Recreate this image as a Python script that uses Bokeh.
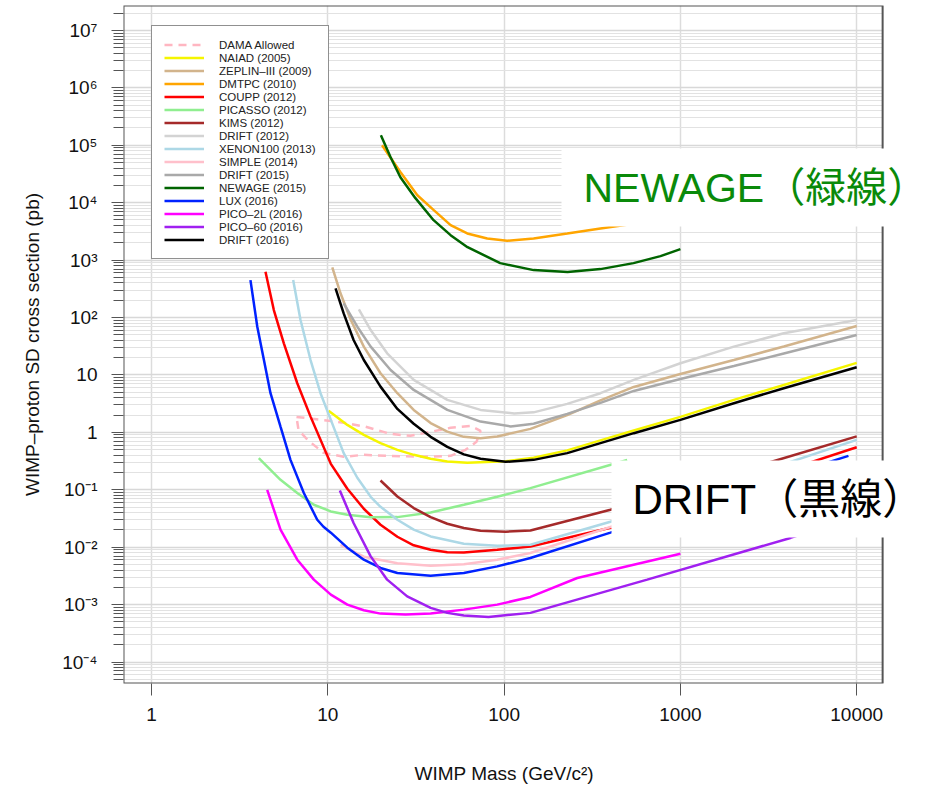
from bokeh.plotting import figure
from bokeh.models import (FixedTicker, CustomJSTickFormatter, Legend, LegendItem,
                          BoxAnnotation, Label, Range1d, Title)
from bokeh.embed import file_html
from bokeh.resources import INLINE

# ---------------- data (WIMP mass in GeV/c^2, cross section in pb) ----------------
dama_mass = [6.64, 8.19, 10.4, 12.6, 16.4, 22.7, 29.4, 38.3, 49.7, 64.5, 73.5, 69.7, 60.4,
             49.7, 33.6, 22.7, 15.9, 12.3, 9.45, 7.67, 6.82, 6.64]
dama_sigma = [1.86, 1.72, 1.58, 1.46, 1.25, 0.94, 0.87, 1.02, 1.20, 1.30, 1.06, 0.684, 0.496,
              0.39, 0.375, 0.39, 0.406, 0.375, 0.44, 0.741, 1.105, 1.86]

naiad_mass = [10.1, 12.9, 16.0, 19.9, 24.8, 30.7, 38.3, 47.6, 61.8, 102, 147, 228, 352, 544,
              1000, 2010, 3860, 10000]
naiad_sigma = [2.37, 1.35, 0.905, 0.649, 0.496, 0.406, 0.346, 0.311, 0.295, 0.313, 0.36, 0.486,
               0.726, 1.08, 1.86, 3.68, 6.7, 16.2]

zeplin_mass = [10.6, 11.8, 13.5, 16.0, 19.9, 24.8, 30.7, 38.3, 47.6, 59.1, 73.5, 91.4, 141, 228,
               352, 544, 1000, 2010, 3860, 10000]
zeplin_sigma = [746, 264, 90.5, 31.1, 10.7, 4.81, 2.46, 1.45, 1.03, 0.835, 0.793, 0.845, 1.15,
                2.0, 3.6, 6.18, 10.4, 18.2, 31.3, 71.1]

dmtpc_mass = [20.3, 25.8, 32.2, 39.9, 49.7, 61.8, 80.2, 104, 147, 228, 352, 542, 1000]
dmtpc_sigma = [1.0e5, 3.43e4, 1.35e4, 7.41e3, 4.06e3, 2.91e3, 2.38e3, 2.17e3, 2.38e3, 2.91e3,
               3.56e3, 4.3e3, 5.8e3]

coupp_mass = [4.43, 4.94, 5.63, 6.71, 7.98, 10.4, 12.9, 16.0, 19.9, 24.8, 30.7, 38.3, 47.6,
              59.1, 91.4, 141, 401, 10000]
coupp_sigma = [626, 135, 35.6, 7.17, 1.88, 0.283, 0.104, 0.0467, 0.0246, 0.0152, 0.0108,
               9.05e-3, 8.18e-3, 8.1e-3, 9.05e-3, 0.0103, 0.0218, 0.55]

picasso_mass = [4.06, 5.39, 6.71, 8.33, 10.4, 12.9, 17.5, 24.8, 38.3, 59.1, 91.4, 141, 499]
picasso_sigma = [0.356, 0.149, 0.0877, 0.0548, 0.042, 0.0367, 0.0332, 0.0334, 0.0403, 0.0548,
                 0.0755, 0.107, 0.33]

kims_mass = [19.9, 24.8, 30.7, 38.3, 47.6, 59.1, 73.5, 102, 141, 401, 10000]
kims_sigma = [0.145, 0.0764, 0.0481, 0.0335, 0.0256, 0.0216, 0.0194, 0.0186, 0.0196, 0.0449, 0.85]

drift12_mass = [15.0, 17.5, 21.7, 30.7, 47.6, 73.5, 114, 147, 228, 352, 544, 1000, 2010, 3860,
                10000]
drift12_sigma = [139, 60.6, 23.8, 8.19, 3.68, 2.46, 2.14, 2.23, 3.13, 4.81, 8.19, 16.0, 31.1,
                 53.1, 90.5]

xenon_mass = [6.36, 7.0, 7.98, 9.09, 10.4, 12.3, 14.7, 17.5, 19.9, 24.8, 30.7, 38.3, 59.1, 91.4,
              141, 401, 10000]
xenon_sigma = [449, 90.5, 18.2, 4.81, 1.65, 0.435, 0.162, 0.0755, 0.0506, 0.0301, 0.0202, 0.0154,
               0.0115, 0.0106, 0.011, 0.0278, 0.74]

simple_mass = [11.8, 16.0, 24.8, 38.3, 59.1, 91.4, 141, 1000]
simple_sigma = [0.011, 6.84e-3, 5.27e-3, 4.77e-3, 5.06e-3, 6.06e-3, 7.93e-3, 0.056]

drift15_mass = [12.3, 14.7, 17.5, 22.7, 30.7, 47.6, 73.5, 109, 147, 228, 352, 544, 1000, 2010,
                3860, 10000]
drift15_sigma = [177, 69.2, 31.1, 12.2, 5.48, 2.46, 1.54, 1.27, 1.41, 2.10, 3.26, 5.27, 8.52,
                 14.3, 23.7, 49.6]

newage_mass = [20, 22.7, 25.8, 31.4, 39.8, 49.7, 62, 95, 147, 229, 352, 542, 771, 1000]
newage_sigma = [1.49e5, 6.2e4, 2.77e4, 1.2e4, 4.96e3, 2.72e3, 1.68e3, 887, 670, 618, 697, 887,
                1175, 1553]

lux_mass = [3.64, 3.98, 4.34, 4.73, 5.39, 6.14, 7.31, 8.71, 9.45, 10.4, 12.9, 16.0, 19.9, 24.8,
            38.3, 59.1, 91.4, 141, 401, 1000, 8980]
lux_sigma = [449, 69.2, 18.2, 4.81, 1.26, 0.332, 0.0877, 0.0301, 0.0227, 0.0179, 9.8e-3, 6.06e-3,
             4.35e-3, 3.56e-3, 3.19e-3, 3.56e-3, 4.63e-3, 6.49e-3, 0.0179, 0.046, 0.39]

pico2l_mass = [4.53, 5.39, 6.71, 8.33, 10.4, 12.9, 16.0, 19.9, 27.6, 38.3, 59.1, 91.4, 141, 260,
               1000]
pico2l_sigma = [0.1, 0.0202, 6.06e-3, 2.72e-3, 1.49e-3, 1.0e-3, 7.96e-4, 6.97e-4, 6.7e-4,
                6.97e-4, 8.18e-4, 1.0e-3, 1.36e-3, 2.91e-3, 7.7e-3]

pico60_mass = [11.7, 14.0, 17.5, 21.7, 28.2, 38.3, 47.6, 59.1, 81.6, 141, 648, 4210, 10000]
pico60_sigma = [0.0973, 0.0264, 6.92e-3, 2.72e-3, 1.39e-3, 8.77e-4, 7.18e-4, 6.44e-4, 6.11e-4,
                7.18e-4, 2.72e-3, 0.0145, 0.034]

drift16_mass = [11.06, 12.3, 14.0, 16.0, 19.9, 24.8, 30.7, 38.3, 47.6, 59.1, 73.5, 102, 147, 228,
                352, 544, 1000, 2010, 3860, 10000]
drift16_sigma = [322, 118, 40.6, 18.2, 6.26, 2.56, 1.41, 0.835, 0.56, 0.414, 0.346, 0.307, 0.332,
                 0.435, 0.649, 0.968, 1.65, 3.22, 5.87, 13.6]

legend_labels = ["DAMA Allowed", "NAIAD (2005)", "ZEPLIN–III (2009)", "DMTPC (2010)",
                 "COUPP (2012)", "PICASSO (2012)", "KIMS (2012)", "DRIFT (2012)",
                 "XENON100 (2013)", "SIMPLE (2014)", "DRIFT (2015)", "NEWAGE (2015)",
                 "LUX (2016)", "PICO–2L (2016)", "PICO–60 (2016)", "DRIFT (2016)"]

x_tick_values = [1, 10, 100, 1000, 10000]
x_tick_labels = ["1", "10", "100", "1000", "10000"]
y_tick_values = [1e-4, 1e-3, 1e-2, 1e-1, 1, 10, 1e2, 1e3, 1e4, 1e5, 1e6, 1e7]
y_tick_labels = ["10⁻⁴", "10⁻³", "10⁻²", "10⁻¹", "1", "10", "10²", "10³", "10⁴", "10⁵",
                 "10⁶", "10⁷"]
y_minor_mantissas = [2, 3, 4, 5, 6, 7, 8, 9]

x_title = "WIMP Mass (GeV/c²)"
y_title = "WIMP–proton SD cross section (pb)"
note_newage = "NEWAGE（緑線）"
note_drift = "DRIFT（黒線）"

# ---------------- styling ----------------
series = [
    (dama_mass, dama_sigma, "#ffb6c1", "8 6"),
    (naiad_mass, naiad_sigma, "#f5f500", "solid"),
    (zeplin_mass, zeplin_sigma, "#d2b48c", "solid"),
    (dmtpc_mass, dmtpc_sigma, "#ffa500", "solid"),
    (coupp_mass, coupp_sigma, "#ff0000", "solid"),
    (picasso_mass, picasso_sigma, "#90ee90", "solid"),
    (kims_mass, kims_sigma, "#a52a2a", "solid"),
    (drift12_mass, drift12_sigma, "#d3d3d3", "solid"),
    (xenon_mass, xenon_sigma, "#add8e6", "solid"),
    (simple_mass, simple_sigma, "#ffc0cb", "solid"),
    (drift15_mass, drift15_sigma, "#a9a9a9", "solid"),
    (newage_mass, newage_sigma, "#006400", "solid"),
    (lux_mass, lux_sigma, "#0022ff", "solid"),
    (pico2l_mass, pico2l_sigma, "#ff00ff", "solid"),
    (pico60_mass, pico60_sigma, "#a020f0", "solid"),
    (drift16_mass, drift16_sigma, "#000000", "solid"),
]

FONT = "Liberation Sans"
X_LOW, X_FRAME_HIGH, X_CANVAS_HIGH = 0.6934, 14030, 27990   # frame edge vs. canvas edge
Y_LOW, Y_HIGH = 4.227e-5, 2.72e7

p = figure(width=935, height=787, x_axis_type="log", y_axis_type="log",
           x_range=Range1d(X_LOW, X_CANVAS_HIGH), y_range=Range1d(Y_LOW, Y_HIGH),
           output_backend="svg", toolbar_location=None,
           min_border_left=123, min_border_right=0, min_border_top=5, min_border_bottom=103)
p.background_fill_color = "white"
p.border_fill_color = "white"
p.outline_line_color = None

# axes
p.xaxis.ticker = FixedTicker(ticks=x_tick_values, minor_ticks=[])
p.xaxis.formatter = CustomJSTickFormatter(
    args=dict(vals=x_tick_values, labels=x_tick_labels),
    code="""
const i = vals.findIndex(v => Math.abs(Math.log10(v) - Math.log10(tick)) < 1e-6);
return i >= 0 ? labels[i] : "";
""")
y_minor = [k * 10.0 ** n for n in range(-5, 8) for k in y_minor_mantissas]
p.yaxis.ticker = FixedTicker(ticks=y_tick_values, minor_ticks=y_minor)
p.yaxis.formatter = CustomJSTickFormatter(
    args=dict(vals=y_tick_values, labels=y_tick_labels),
    code="""
const i = vals.findIndex(v => Math.abs(Math.log10(v) - Math.log10(tick)) < 1e-6);
return i >= 0 ? labels[i] : "";
""")

for ax in (p.xaxis, p.yaxis):
    ax.axis_line_color = None
    ax.major_tick_line_color = "#555555"
    ax.minor_tick_line_color = "#555555"
    ax.major_tick_out = 12
    ax.major_tick_in = 0
    ax.minor_tick_out = 10
    ax.minor_tick_in = 0
    ax.major_label_text_font = FONT
    ax.major_label_text_font_size = "19px"
    ax.major_label_text_color = "#111111"
    ax.axis_label_text_font = FONT
    ax.axis_label_text_font_size = "19px"
    ax.axis_label_text_font_style = "normal"
    ax.axis_label_text_color = "#111111"

p.xaxis.minor_tick_line_color = None
p.xaxis.major_label_standoff = 12
# blank spacer label: pushes the x title (below) down to its place
p.xaxis.axis_label = " "
p.xaxis.axis_label_standoff = 13
p.yaxis.major_label_standoff = 14
p.yaxis.axis_label = y_title
p.yaxis.axis_label_standoff = 16

# x-axis title, centred under the plotting box (which stops short of the canvas edge)
xt = Title(text=x_title, align="left", offset=291, standoff=4, vertical_align="top",
           text_font=FONT, text_font_size="19px", text_font_style="normal",
           text_color="#111111")
p.add_layout(xt, "below")

# grids
p.xgrid.grid_line_color = "#dcdcdc"
p.xgrid.grid_line_width = 1.5
p.ygrid.grid_line_color = "#d8d8d8"
p.ygrid.grid_line_width = 1.5
p.ygrid.minor_grid_line_color = "#e2e2e2"
p.ygrid.minor_grid_line_width = 1.2

# curves
renderers = []
for (mx, sy, col, dash) in series:
    r = p.line(x=mx, y=sy, line_color=col, line_width=2.5, line_dash=dash)
    renderers.append(r)

# white margin to the right of the plotting box, then the box border itself
mask = BoxAnnotation(left=X_FRAME_HIGH, fill_color="white", fill_alpha=1.0, line_color=None)
border = BoxAnnotation(right=X_FRAME_HIGH, fill_alpha=0.0, line_color="#555555",
                       line_width=2, line_alpha=1.0)
p.add_layout(mask)
p.add_layout(border)

legend = Legend(items=[LegendItem(label=lab, renderers=[r])
                       for lab, r in zip(legend_labels, renderers)],
                location=(28, 424))
legend.label_text_font = FONT
legend.label_text_font_size = "11.5px"
legend.label_text_color = "#222222"
legend.glyph_width = 40
legend.glyph_height = 13
legend.label_height = 13
legend.label_standoff = 15
legend.padding = 12
legend.spacing = 0
legend.margin = 0
legend.border_line_color = "#222222"
legend.border_line_width = 1.2
legend.background_fill_color = "white"
legend.background_fill_alpha = 1.0
p.add_layout(legend)

# overlay notes (white boxes with text)
box1 = BoxAnnotation(left=438, right=812, top=535, bottom=457,
                     left_units="screen", right_units="screen",
                     top_units="screen", bottom_units="screen",
                     fill_color="white", fill_alpha=1.0, line_color=None)
box2 = BoxAnnotation(left=488, right=812, top=223, bottom=146,
                     left_units="screen", right_units="screen",
                     top_units="screen", bottom_units="screen",
                     fill_color="white", fill_alpha=1.0, line_color=None)
p.add_layout(box1)
p.add_layout(box2)

NOTE_FONT = "Liberation Sans, Noto Sans CJK JP"
lab1 = Label(x=460, y=496, x_units="screen", y_units="screen", text=note_newage,
             text_font=NOTE_FONT, text_font_size="41px",
             text_color="#0a8a0a", text_baseline="middle", text_align="left")
lab2 = Label(x=509, y=184, x_units="screen", y_units="screen", text=note_drift,
             text_font=NOTE_FONT, text_font_size="42px",
             text_color="#000000", text_baseline="middle", text_align="left")
p.add_layout(lab1)
p.add_layout(lab2)

open("out.html", "w").write(file_html(p, INLINE))
